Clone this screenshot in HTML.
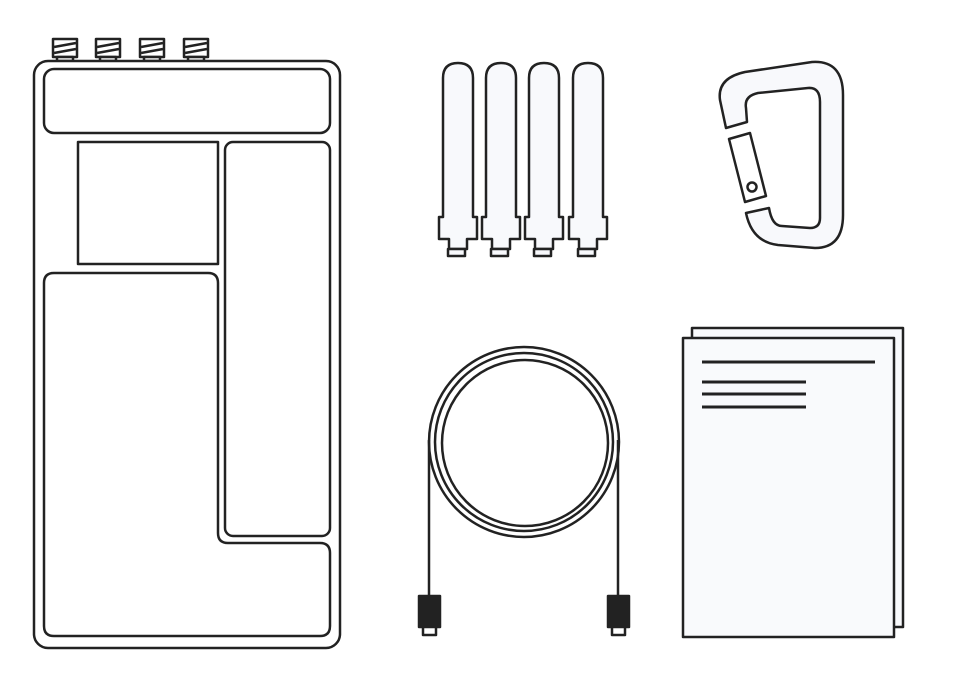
<!DOCTYPE html>
<html><head><style>html,body{margin:0;padding:0;background:#fff}svg{display:block}</style></head><body>
<svg width="960" height="692" viewBox="0 0 960 692" xmlns="http://www.w3.org/2000/svg">
<g fill="none" stroke="#222" stroke-width="2.5" stroke-linejoin="round">
<!-- knobs -->
<g fill="#fff">
<g id="k"><rect x="53" y="39" width="24" height="18"/><rect x="57" y="57" width="16" height="4"/><line x1="54" y1="47" x2="76" y2="43"/><line x1="54" y1="53" x2="76" y2="49"/></g>
<use href="#k" x="43"/><use href="#k" x="87"/><use href="#k" x="131"/>
</g>
<!-- case -->
<rect x="34" y="61" width="306" height="587" rx="14" fill="#fff"/>
<rect x="44" y="69" width="286" height="64" rx="10"/>
<rect x="78" y="142" width="140" height="122"/>
<rect x="225" y="142" width="105" height="394" rx="8"/>
<path d="M54,273 H208 Q218,273 218,283 V533 Q218,543 228,543 H320 Q330,543 330,553 V626 Q330,636 320,636 H54 Q44,636 44,626 V283 Q44,273 54,273 Z"/>
<!-- antennas -->
<g fill="#f8f9fc">
<g id="a"><path d="M443,217 V78 Q443,63 458,63 Q473,63 473,78 V217 H477 V239 H467 V249 H449 V239 H439 V217 Z"/><rect x="448" y="249" width="17" height="7"/></g>
<use href="#a" x="43"/><use href="#a" x="86"/><use href="#a" x="130"/>
</g>
<!-- carabiner -->
<path fill="#f8f9fc" d="M726,128 L720,100 Q717,78 745,72 L812,62 Q843,60 843,95 L843,215 Q843,248 815,248 L778,245 Q752,242 746,213 L769,208 Q772,226 782,226 L810,228 Q820,228 820,218 L820,102 Q820,87 808,88 L758,93 Q744,96 746,108 L747,122 Z"/>
<path fill="#fff" d="M729,139 L750,133 L766,196 L745,202 Z"/>
<circle cx="752" cy="187" r="4.5"/>
<!-- cable -->
<circle cx="524" cy="442" r="95"/>
<circle cx="524" cy="442" r="89"/>
<circle cx="525" cy="443" r="83"/>
<line x1="429" y1="440" x2="429" y2="596"/>
<line x1="618" y1="440" x2="618" y2="596"/>
<rect x="419" y="596" width="21" height="31" fill="#222"/>
<rect x="423" y="627" width="13" height="8" fill="#fff"/>
<rect x="608" y="596" width="21" height="31" fill="#222"/>
<rect x="612" y="627" width="13" height="8" fill="#fff"/>
<!-- documents -->
<rect x="692" y="328" width="211" height="299" fill="#f9fafc"/>
<rect x="683" y="338" width="211" height="299" fill="#f9fafc"/>
<g stroke-width="3"><line x1="702" y1="362" x2="875" y2="362"/><line x1="702" y1="382" x2="806" y2="382"/><line x1="702" y1="394" x2="806" y2="394"/><line x1="702" y1="407" x2="806" y2="407"/></g>
</g>
</svg>
</body></html>
